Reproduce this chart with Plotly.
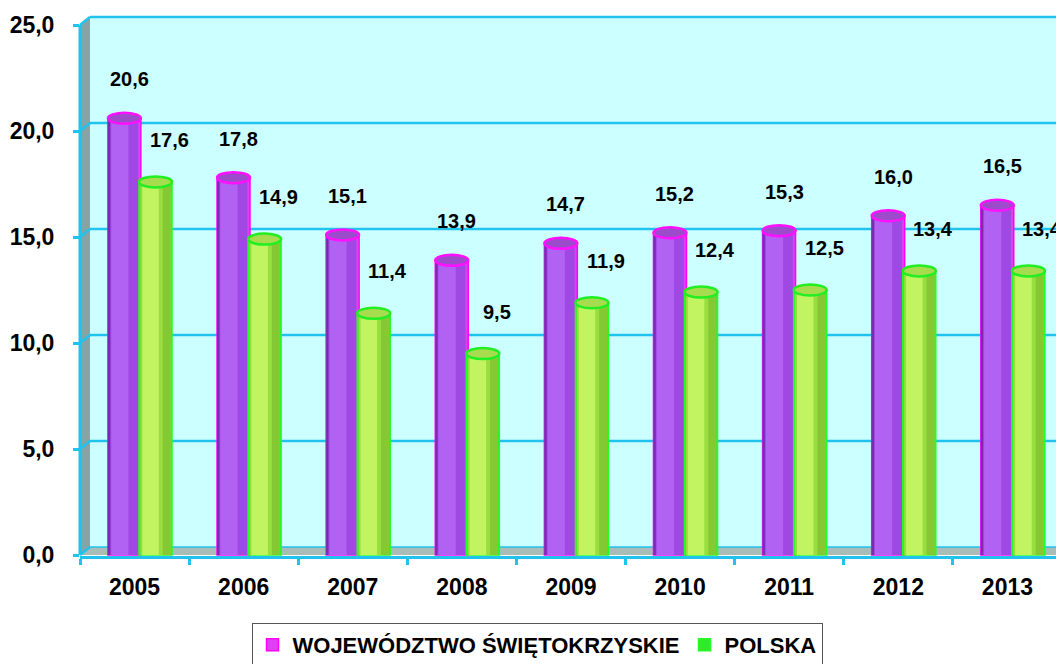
import plotly.graph_objects as go

# ---------------- data ----------------
years = ["2005", "2006", "2007", "2008", "2009", "2010", "2011", "2012", "2013"]
swietokrzyskie = [20.6, 17.8, 15.1, 13.9, 14.7, 15.2, 15.3, 16.0, 16.5]
polska = [17.6, 14.9, 11.4, 9.5, 11.9, 12.4, 12.5, 13.4, 13.4]
series_names = ["WOJEWÓDZTWO ŚWIĘTOKRZYSKIE", "POLSKA"]
y_ticks = [0, 5, 10, 15, 20, 25]

# ---------------- geometry / style ----------------
# the page body adds an 8px margin, so the figure is sized / placed to compensate
PAGE_OFF = 8
W, H = 1064 - PAGE_OFF, 664 - PAGE_OFF
ML, MR, MT, MB = 78 - PAGE_OFF, 2, 13 - PAGE_OFF, 108
PLOT_W = W - ML - MR
PX_PER_UNIT = 21.2
ZERO_PX = 555 - PAGE_OFF
Y_LO = -((H - MB) - ZERO_PX) / PX_PER_UNIT
Y_HI = (ZERO_PX - MT) / PX_PER_UNIT

DEPTH_X = 10 / PLOT_W          # 3D depth offset (paper units)
DEPTH_Y = 8 / PX_PER_UNIT      # 3D depth offset (data units)
BAR_W = 0.302
OFFSETS = [-0.244, 0.041]
CAP_H = 5.5 / PX_PER_UNIT

CYAN = "#20C2EE"
FONT = "Liberation Sans, Arial, sans-serif"

# cylinder shading layers: (start fraction, end fraction, colour)
purple_layers = [(0.0, 1.0, "#DC3CEE"), (0.0, 0.92, "#A048E4"), (0.1, 0.62, "#B262F3"), (0.0, 0.07, "#7A2CB0")]
green_layers = [(0.0, 1.0, "#2EE02A"), (0.04, 0.96, "#98DE3E"), (0.1, 0.6, "#C2F462"), (0.72, 0.96, "#86C734")]
cap_styles = [("#9C4CCB", "#FF10FF"), ("#A6DC4E", "#22EE22")]
legend_colors = [("#E040F0", "#FF00FF"), ("#33E82A", "#22FF22")]

fig = go.Figure()

for s, (vals, layers) in enumerate([(swietokrzyskie, purple_layers), (polska, green_layers)]):
    for k, (f0, f1, col) in enumerate(layers):
        first = k == 0
        fig.add_trace(go.Bar(
            x=years, y=vals,
            name=series_names[s],
            legendgroup=series_names[s],
            showlegend=first,
            width=BAR_W * (f1 - f0),
            offset=OFFSETS[s] + BAR_W * f0,
            marker=dict(color=legend_colors[s][0] if first else col,
                        line=dict(color=legend_colors[s][1] if first else col, width=1.5 if first else 0)),
            hoverinfo="skip",
        ))

shapes = []
# back wall
shapes.append(dict(type="rect", xref="paper", yref="y", x0=DEPTH_X, x1=1, y0=DEPTH_Y, y1=y_ticks[-1] + DEPTH_Y,
                   fillcolor="#CCFFFF", line=dict(width=0), layer="below"))
# side wall
shapes.append(dict(type="path", xref="paper", yref="y",
                   path=f"M 0,0 L {DEPTH_X},{DEPTH_Y} L {DEPTH_X},{y_ticks[-1] + DEPTH_Y} L 0,{y_ticks[-1]} Z",
                   fillcolor="#86A4A4", line=dict(width=0), layer="below"))
# floor
shapes.append(dict(type="path", xref="paper", yref="y",
                   path=f"M 0,0 L {DEPTH_X},{DEPTH_Y} L 1,{DEPTH_Y} L 1,0 Z",
                   fillcolor="#A9BDB6", line=dict(width=0), layer="below"))
# gridlines on the walls
for v in y_ticks:
    shapes.append(dict(type="line", xref="paper", yref="y", x0=0, x1=DEPTH_X, y0=v, y1=v + DEPTH_Y,
                       line=dict(color=CYAN, width=2.5), layer="below"))
    shapes.append(dict(type="line", xref="paper", yref="y", x0=DEPTH_X, x1=1, y0=v + DEPTH_Y, y1=v + DEPTH_Y,
                       line=dict(color=CYAN, width=2.5 if v > 0 else 1.5), layer="below"))
# front vertical axis line
shapes.append(dict(type="line", xref="paper", yref="y", x0=0, x1=0, y0=0, y1=y_ticks[-1],
                   line=dict(color=CYAN, width=3), layer="below"))
# cylinder caps
for s, vals in enumerate([swietokrzyskie, polska]):
    for i, v in enumerate(vals):
        shapes.append(dict(type="circle", xref="x", yref="y",
                           x0=i + OFFSETS[s], x1=i + OFFSETS[s] + BAR_W,
                           y0=v - CAP_H, y1=v + CAP_H,
                           fillcolor=cap_styles[s][0], line=dict(color=cap_styles[s][1], width=2.5),
                           layer="above"))

annotations = []
label_shift = [(5, 39), (14, 42)]
for s, vals in enumerate([swietokrzyskie, polska]):
    for i, v in enumerate(vals):
        annotations.append(dict(
            x=i + OFFSETS[s] + BAR_W / 2, y=v, xref="x", yref="y",
            text=f"{v:.1f}".replace(".", ","),
            showarrow=False, xshift=label_shift[s][0], yshift=label_shift[s][1],
            font=dict(family=FONT, size=20, color="black", weight="bold"),
        ))

fig.update_layout(
    width=W, height=H,
    margin=dict(l=ML, r=MR, t=MT, b=MB),
    paper_bgcolor="white", plot_bgcolor="white",
    barmode="overlay",
    separators=", ",
    font=dict(family=FONT, color="black", weight="bold"),
    shapes=shapes,
    annotations=annotations,
    showlegend=True,
    legend=dict(
        orientation="h", xref="container", yref="container",
        x=(537 - PAGE_OFF) / W, xanchor="center", y=1 - (623 - PAGE_OFF) / H, yanchor="top",
        bordercolor="#555555", borderwidth=1, bgcolor="white",
        font=dict(family=FONT, size=22, color="black", weight="bold"),
        traceorder="normal",
    ),
    xaxis=dict(
        type="category", range=[-0.5, len(years) - 0.5],
        showgrid=False, zeroline=False,
        showline=True, linecolor=CYAN, linewidth=3,
        ticks="outside", tickson="boundaries", ticklen=6, tickwidth=2.5, tickcolor=CYAN,
        tickfont=dict(family=FONT, size=23, color="black", weight="bold"),
        ticklabelstandoff=8,
    ),
    yaxis=dict(
        range=[Y_LO, Y_HI], tickvals=y_ticks, tickformat=".1f",
        showgrid=False, zeroline=False, showline=False,
        ticks="outside", ticklen=6, tickwidth=2.5, tickcolor=CYAN,
        tickfont=dict(family=FONT, size=23, color="black", weight="bold"),
        ticklabelstandoff=14,
    ),
)

fig.write_html("out.html")
